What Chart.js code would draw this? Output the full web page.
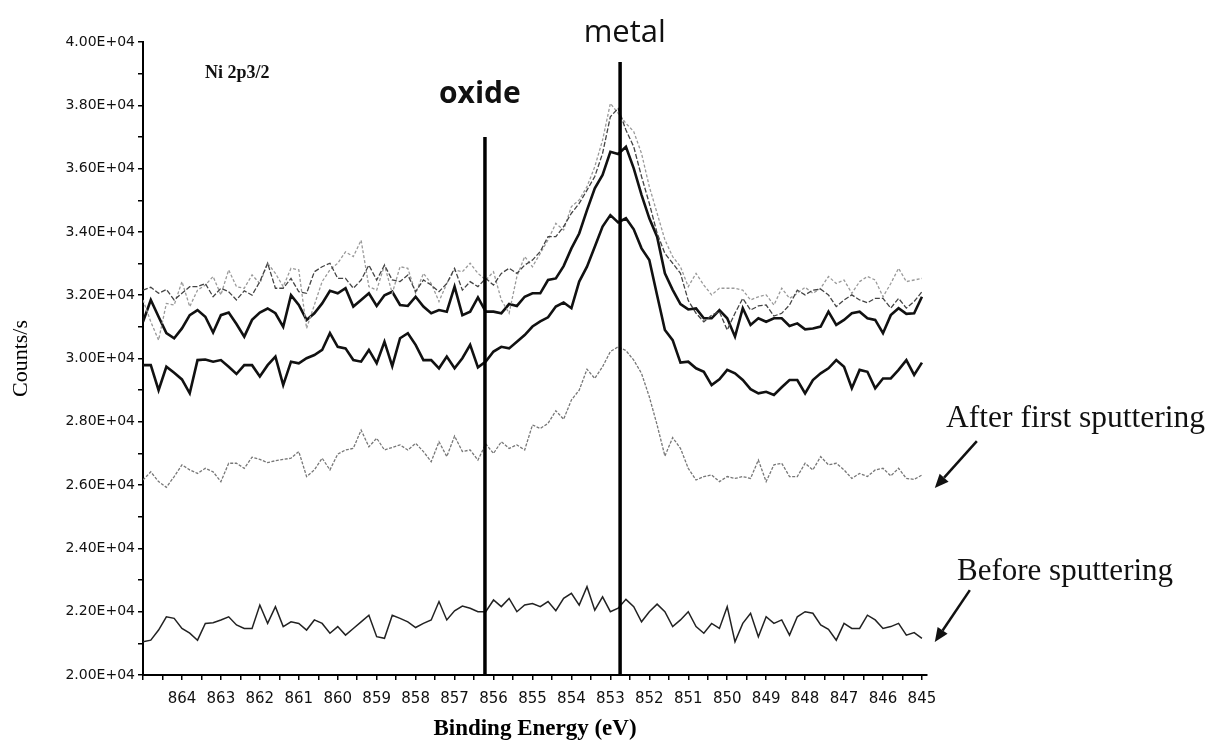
<!DOCTYPE html>
<html><head><meta charset="utf-8">
<script src="https://cdn.jsdelivr.net/npm/chart.js@4.4.0/dist/chart.umd.min.js"></script>
<style>html,body{margin:0;padding:0;background:#fff;}canvas{display:block;}</style>
</head><body>
<canvas id="c" width="1212" height="743"></canvas>
<script>
// Binding energy grid (eV)
const energies = [
865.0,864.8,864.6,864.4,864.2,864.0,863.8,863.6,863.4,863.2,
863.0,862.8,862.6,862.4,862.2,862.0,861.8,861.6,861.4,861.2,
861.0,860.8,860.6,860.4,860.2,860.0,859.8,859.6,859.4,859.2,
859.0,858.8,858.6,858.4,858.2,858.0,857.8,857.6,857.4,857.2,
857.0,856.8,856.6,856.4,856.2,856.0,855.8,855.6,855.4,855.2,
855.0,854.8,854.6,854.4,854.2,854.0,853.8,853.6,853.4,853.2,
853.0,852.8,852.6,852.4,852.2,852.0,851.8,851.6,851.4,851.2,
851.0,850.8,850.6,850.4,850.2,850.0,849.8,849.6,849.4,849.2,
849.0,848.8,848.6,848.4,848.2,848.0,847.8,847.6,847.4,847.2,
847.0,846.8,846.6,846.4,846.2,846.0,845.8,845.6,845.4,845.2,
845.0];

const beforeSputtering = [
21050,21100,21420,21840,21790,21470,21320,21100,21630,21650,
21740,21840,21580,21470,21470,22210,21630,22160,21530,21680,
21630,21420,21740,21630,21320,21530,21260,21470,21680,21890,
21210,21160,21890,21790,21680,21500,21630,21740,22320,21740,
22030,22180,22110,22000,22000,22370,22160,22420,22000,22210,
22260,22160,22320,22030,22420,22580,22210,22790,22050,22470,
22000,22110,22390,22160,21680,22000,22240,22000,21530,21740,
22000,21530,21320,21630,21470,22160,21050,21630,21950,21210,
21840,21630,21740,21260,21840,22000,21950,21580,21440,21100,
21630,21470,21470,21890,21740,21470,21530,21630,21260,21340,
21160];

const afterFirstSputtering = [
26160,26420,26110,25930,26270,26640,26480,26370,26530,26420,
26110,26690,26690,26530,26880,26810,26710,26770,26810,26850,
27060,26270,26480,26850,26480,26980,27110,27160,27740,27210,
27480,27110,27190,27270,27110,27320,27060,26740,27370,26900,
27550,27060,27110,26790,27300,27000,27370,27160,27270,27110,
27900,27790,27950,28350,28080,28690,29000,29660,29370,29740,
30220,30370,30250,29950,29530,28790,27900,26920,27500,27160,
26530,26160,26270,26320,26110,26270,26210,26270,26210,26790,
26110,26640,26690,26270,26270,26690,26480,26900,26640,26690,
26480,26210,26370,26270,26480,26530,26290,26530,26210,26180,
26320];

const sputterScan3 = [
29790,29790,29000,29740,29550,29340,28900,29950,29970,29900,
29950,29740,29510,29790,29790,29430,29790,30060,29160,29900,
29850,30010,30110,30270,30800,30370,30320,29950,29900,30270,
29850,30530,29760,30640,30800,30430,29950,29950,29690,30060,
29690,30010,30430,29720,29900,30220,30370,30320,30530,30740,
31010,31170,31300,31640,31770,31590,32430,32900,33530,34170,
34530,34300,34430,34080,33480,33110,32000,30900,30580,29870,
29900,29690,29580,29160,29340,29640,29530,29320,29030,28900,
28950,28850,29090,29320,29320,28900,29320,29530,29690,29950,
29740,29060,29640,29580,29060,29370,29370,29640,29950,29480,
29870];

const sputterScan4 = [
31160,31850,31320,30800,30640,30950,31370,31530,31320,30820,
31370,31450,31090,30690,31220,31450,31580,31430,31000,32000,
31690,31220,31430,31740,32140,32060,32220,31640,31850,32060,
31660,32000,32110,31690,31660,31950,31640,31430,31530,31480,
32270,31370,31480,31930,31480,31480,31430,31720,31660,31950,
32060,32060,32480,32530,32920,33480,33950,34690,35380,35800,
36530,36460,36690,36010,35170,34430,33850,32690,32170,31720,
31550,31580,31270,31270,31530,31270,30690,31590,31060,31270,
31160,31270,31270,31030,31110,30920,30950,31010,31480,31060,
31220,31430,31480,31270,31220,30800,31370,31590,31410,31430,
31950];

const sputterScan5 = [
31850,31160,30580,31740,31690,32430,31640,32160,32320,32590,
32010,32800,32270,32220,32640,32370,33010,32690,32270,32850,
32800,30950,31690,32430,32800,33010,33370,33220,33740,32270,
32160,32950,32060,32900,32850,32060,32690,32370,31800,32370,
32800,32740,33010,32690,32480,32740,31850,31430,32590,33220,
32900,33320,33750,34270,34060,34800,35010,35430,36060,36900,
38060,37750,37430,37170,36480,35430,34590,33750,33220,32900,
32270,32690,32320,32010,32220,32220,32220,32160,31850,31950,
32010,31690,32220,31900,32060,32250,32060,32220,32590,32370,
32480,32060,32430,32590,32480,31950,32370,32850,32430,32480,
32530];

const sputterScan6 = [
32160,32250,32060,32180,31850,32060,32270,32270,32370,31950,
32220,32110,31850,32140,32000,32430,33010,32220,32220,32530,
32110,32060,32740,32900,33010,32530,32530,32220,32480,32950,
32480,32950,32480,32430,32640,32110,32480,32320,32110,32370,
32850,32160,32430,32270,32530,32320,32690,32850,32690,32950,
33110,33380,33850,33850,34170,34590,34900,35320,35750,36480,
37640,37900,37220,36690,35750,34900,33960,33320,33010,32690,
31830,31430,31160,31370,31480,30900,31430,31900,31530,31660,
31690,31340,31430,31690,32160,32010,32160,32190,32010,31640,
31850,32010,31850,31760,31900,31900,31590,31900,31590,31800,
32110];

// Reference lines: energy and top of the line (counts/s)
const markerNames = ['oxide','metal'];
const markerEnergies = [856.22, 852.75];
const markerTops = [37000, 39370];

const xTickLabels = [864,863,862,861,860,859,858,857,856,855,854,853,852,851,850,849,848,847,846,845];
const yTickLabels = [20000,22000,24000,26000,28000,30000,32000,34000,36000,38000,40000];

const xMin = 844.87, xMax = 865, yMin = 20000, yMax = 40000;

function pts(vals){ return energies.map((e,i)=>({x:e, y:vals[i]})); }
function fmtE(v){ return (v/10000).toFixed(2) + 'E+04'; }

const markerSets = markerNames.map((n,i)=>({
  label:n, data:[{x:markerEnergies[i], y:yMin},{x:markerEnergies[i], y:markerTops[i]}],
  borderColor:'#000', borderWidth:3.5, pointRadius:0, clip:false
}));

const series = [
  {label:'scan 6', data:pts(sputterScan6), borderColor:'#444', borderWidth:1.3, borderDash:[5,2]},
  {label:'scan 5', data:pts(sputterScan5), borderColor:'#9a9a9a', borderWidth:1.3, borderDash:[3,2]},
  {label:'scan 4', data:pts(sputterScan4), borderColor:'#111', borderWidth:2.6},
  {label:'scan 3', data:pts(sputterScan3), borderColor:'#111', borderWidth:2.6},
  {label:'After first sputtering', data:pts(afterFirstSputtering), borderColor:'#777', borderWidth:1.3, borderDash:[3,1.5]},
  {label:'Before sputtering', data:pts(beforeSputtering), borderColor:'#222', borderWidth:1.5}
].map(s=>Object.assign({pointRadius:0, tension:0, fill:false}, s));

const annotations = {
  texts: [
    {text:'metal', e:852.63, v:40000, font:'31px "Open Sans"', align:'center'},
    {text:'oxide', e:856.35, v:38072, font:'bold 30px "Open Sans"', align:'center'},
    {text:'Ni 2p3/2', e:863.41, v:38862, font:'bold 18px "Liberation Serif"', align:'left'},
    {text:'After first sputtering', e:844.38, v:27834, font:'31.5px "Liberation Serif"', align:'left'},
    {text:'Before sputtering', e:844.10, v:23000, font:'31px "Liberation Serif"', align:'left'}
  ],
  arrows: [
    {from:[843.59, 27392], to:[844.67, 25906]},
    {from:[843.77, 22683], to:[844.67, 21040]}
  ]
};

const annotPlugin = {
  id:'annot',
  afterDraw(chart){
    const {ctx, scales:{x, y}} = chart;
    ctx.save();
    ctx.fillStyle = '#111';
    ctx.textBaseline = 'alphabetic';
    annotations.texts.forEach(t=>{
      ctx.font = t.font; ctx.textAlign = t.align;
      ctx.fillText(t.text, x.getPixelForValue(t.e), y.getPixelForValue(t.v));
    });
    ctx.strokeStyle = '#111'; ctx.lineWidth = 2.5;
    annotations.arrows.forEach(a=>{
      const x1 = x.getPixelForValue(a.from[0]), y1 = y.getPixelForValue(a.from[1]);
      const x2 = x.getPixelForValue(a.to[0]), y2 = y.getPixelForValue(a.to[1]);
      const ang = Math.atan2(y2-y1, x2-x1), L = 14, W = 6;
      const bx = x2 - L*Math.cos(ang), by = y2 - L*Math.sin(ang);
      ctx.beginPath(); ctx.moveTo(x1,y1); ctx.lineTo(bx,by); ctx.stroke();
      ctx.beginPath(); ctx.moveTo(x2,y2);
      ctx.lineTo(bx + W*Math.sin(ang), by - W*Math.cos(ang));
      ctx.lineTo(bx - W*Math.sin(ang), by + W*Math.cos(ang));
      ctx.closePath(); ctx.fill();
    });
    ctx.restore();
  }
};

new Chart(document.getElementById('c'), {
  type:'line',
  data:{datasets: markerSets.concat(series)},
  options:{
    responsive:false, animation:false, devicePixelRatio:1,
    layout:{padding:{top:42, right:285, left:0, bottom:0}},
    plugins:{legend:{display:false}, tooltip:{enabled:false}},
    scales:{
      x:{
        type:'linear', reverse:true, min:xMin, max:xMax,
        afterBuildTicks:(s)=>{ const t=[]; for(let v=xMax; v>=845; v-=0.5) t.push({value:v}); s.ticks=t; },
        afterFit:(s)=>{ s.height = 68; },
        border:{color:'#000', width:2},
        grid:{drawOnChartArea:false, color:'#000', tickLength:5, lineWidth:1.5},
        ticks:{autoSkip:false, maxRotation:0, padding:10, color:'#111',
          font:{family:'DejaVu Sans', size:15},
          callback:(v)=> xTickLabels.includes(v) ? String(v) : ''},
        title:{display:true, text:'Binding Energy (eV)', color:'#000',
          font:{family:'Liberation Serif', size:23, weight:'bold'}, padding:{top:0, bottom:0}}
      },
      y:{
        type:'linear', min:yMin, max:yMax,
        afterBuildTicks:(s)=>{ const t=[]; for(let v=yMin; v<=yMax; v+=1000) t.push({value:v}); s.ticks=t; },
        afterFit:(s)=>{ s.width = 143; },
        border:{color:'#000', width:2},
        grid:{drawOnChartArea:false, color:'#000', tickLength:5, lineWidth:1.5},
        ticks:{autoSkip:false, padding:3, color:'#111',
          font:{family:'DejaVu Sans', size:14},
          callback:(v)=> yTickLabels.includes(v) ? fmtE(v) : ''},
        title:{display:true, text:'Counts/s', color:'#000',
          font:{family:'Liberation Serif', size:22}, padding:{top:8, bottom:0}}
      }
    }
  },
  plugins:[annotPlugin]
});
</script>
</body></html>
